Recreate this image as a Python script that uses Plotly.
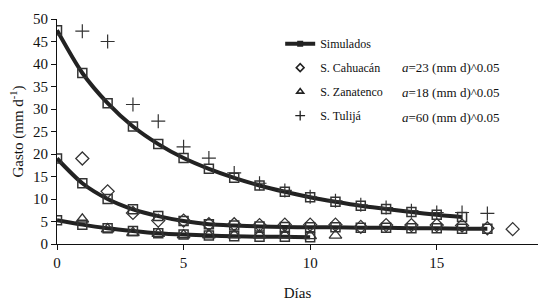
import plotly.graph_objects as go

# Simulated curves
sim_tul_x = list(range(0, 17))
sim_tul_y = [47.5, 38.0, 31.3, 26.1, 22.2, 19.1, 16.7, 14.7, 13.0, 11.6, 10.4, 9.4, 8.5, 7.8, 7.1, 6.5, 6.0]
sim_cah_x = list(range(0, 18))
sim_cah_y = [19.0, 13.5, 10.0, 7.7, 6.2, 5.1, 4.4, 4.1, 3.9, 3.8, 3.7, 3.7, 3.6, 3.6, 3.5, 3.5, 3.4, 3.4]
sim_zan_x = list(range(0, 11))
sim_zan_y = [5.3, 4.3, 3.5, 2.9, 2.4, 2.1, 1.9, 1.7, 1.6, 1.6, 1.5]

# Observed
obs_cah_x = list(range(1, 19))
obs_cah_y = [19.0, 11.7, 6.9, 5.2, 5.2, 4.4, 4.4, 4.2, 4.3, 4.3, 4.3, 3.8, 4.2, 4.2, 4.2, 4.1, 3.5, 3.3]
obs_zan_x = list(range(1, 12))
obs_zan_y = [5.5, 3.3, 2.5, 2.3, 2.0, 2.0, 2.0, 2.0, 2.0, 1.8, 1.9]
obs_tul_x = list(range(1, 18))
obs_tul_y = [47.3, 45.0, 31.0, 27.3, 21.6, 19.1, 15.8, 13.5, 11.9, 10.5, 9.6, 8.7, 8.1, 7.4, 7.0, 7.0, 6.8]

names = ["Simulados", "S. Cahuacán", "S. Zanatenco", "S. Tulijá"]
params = ["=23 (mm d)^0.05", "=18 (mm d)^0.05", "=60 (mm d)^0.05"]
x_ticks = [0, 5, 10, 15]

dark = "#222222"
mk = "#333333"
font = "Liberation Serif"

fig = go.Figure()

sim_sets = [(sim_tul_x, sim_tul_y), (sim_cah_x, sim_cah_y), (sim_zan_x, sim_zan_y)]
for sx, sy in sim_sets:
    fig.add_trace(go.Scatter(
        x=sx, y=sy, mode="lines+markers", name=names[0],
        line=dict(color=dark, width=4, shape="spline", smoothing=0.8),
        marker=dict(symbol="square-open", size=9, color=mk, line=dict(width=1.5, color=mk)),
        showlegend=False))

fig.add_trace(go.Scatter(x=obs_cah_x, y=obs_cah_y, mode="markers", name=names[1],
    marker=dict(symbol="diamond-open", size=10, color=mk, line=dict(width=1.3, color=mk)),
    showlegend=False))
fig.add_trace(go.Scatter(x=obs_zan_x, y=obs_zan_y, mode="markers", name=names[2],
    marker=dict(symbol="triangle-up-open", size=11, color=mk, line=dict(width=1.3, color=mk)),
    showlegend=False))
fig.add_trace(go.Scatter(x=obs_tul_x, y=obs_tul_y, mode="markers", name=names[3],
    marker=dict(symbol="cross-thin-open", size=10, color=mk, line=dict(width=1.2, color=mk)),
    showlegend=False))

# legend entries with small symbols
fig.add_trace(go.Scatter(x=[None], y=[None], mode="lines+markers", name=names[0],
    line=dict(color=dark, width=4), marker=dict(symbol="square", size=6, color=dark),
    legendgroup="a"))
fig.add_trace(go.Scatter(x=[None], y=[None], mode="markers", name=names[1],
    marker=dict(symbol="diamond-open", size=6, color=dark, line=dict(width=1.6, color=dark)),
    legendgroup="b"))
fig.add_trace(go.Scatter(x=[None], y=[None], mode="markers", name=names[2],
    marker=dict(symbol="triangle-up-open", size=6, color=dark, line=dict(width=1.6, color=dark)),
    legendgroup="c"))
fig.add_trace(go.Scatter(x=[None], y=[None], mode="markers", name=names[3],
    marker=dict(symbol="cross-thin-open", size=7, color=dark, line=dict(width=1.3, color=dark)),
    legendgroup="d"))

row_y = [68, 92, 117]
for py, txt in zip(row_y, params):
    fig.add_annotation(xref="paper", yref="paper", x=(400 - 57) / 481, y=(244 - py) / 225,
                       xanchor="left", yanchor="middle", showarrow=False,
                       text="<i>a</i>" + txt, font=dict(family=font, size=13, color="#111"))

fig.update_layout(
    width=542, height=294,
    margin=dict(l=49, r=12, t=11, b=58, autoexpand=False),
    paper_bgcolor="white", plot_bgcolor="white",
    font=dict(family=font, size=15, color="#111"),
    showlegend=True,
    legend=dict(x=0.464, y=0.955, xanchor="left", yanchor="top",
                font=dict(family=font, size=12), traceorder="grouped",
                tracegroupgap=5, bgcolor="rgba(0,0,0,0)"),
    xaxis=dict(range=[0, 19], tickvals=x_ticks, showgrid=False, zeroline=False,
               showline=True, linecolor="#111", linewidth=1, ticks="outside",
               ticklen=5, tickcolor="#111", automargin=False,
               title=dict(text="Días", font=dict(family=font, size=15), standoff=17)),
    yaxis=dict(range=[0, 50], dtick=5, showgrid=False, zeroline=False,
               showline=True, linecolor="#111", linewidth=1, ticks="outside",
               ticklen=5, tickcolor="#111", automargin=False,
               title=dict(text="Gasto (mm d<sup>-1</sup>)", font=dict(family=font, size=15), standoff=8)),
)

fig.write_html("out.html")
